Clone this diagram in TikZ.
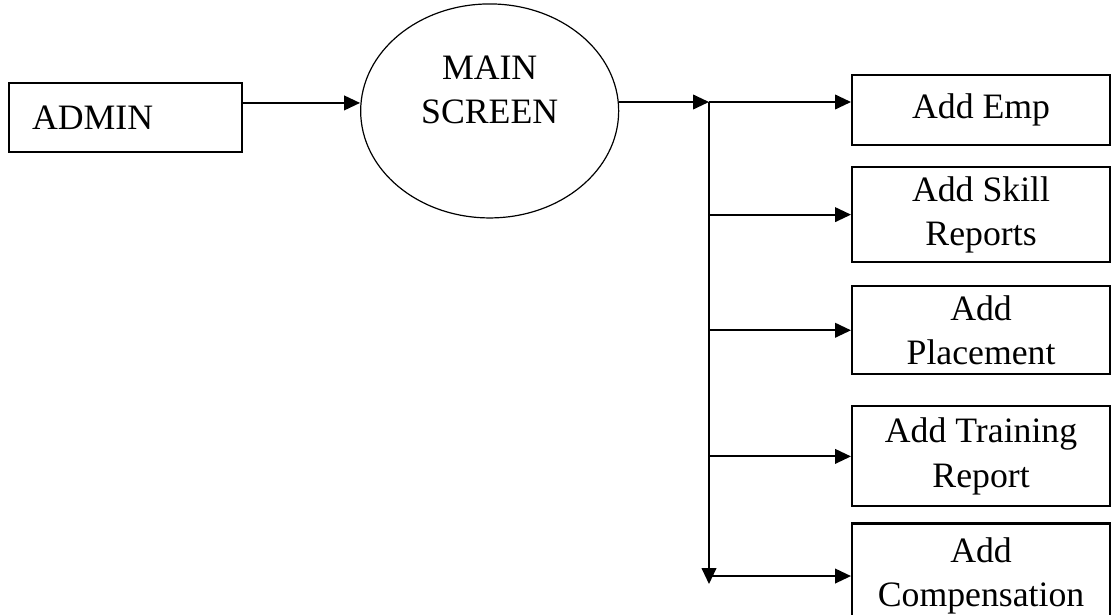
\documentclass[tikz,border=0pt]{standalone}
\usepackage{fontspec}
\setmainfont{Liberation Serif}
\usetikzlibrary{arrows.meta, positioning, shapes.geometric}

\begin{document}
\begin{tikzpicture}[
    font=\fontsize{26.8}{33}\selectfont,
    box/.style={draw, line width=1.6pt, align=center, minimum width=193.5pt},
    oval/.style={draw, ellipse, line width=0.9pt, minimum width=193.5pt, minimum height=160.5pt, inner sep=0pt},
    arrow/.style={-{Triangle[length=12pt, width=11pt]}, line width=1.4pt}
  ]
  \useasboundingbox (0,0) rectangle (834.75pt,-460.5pt);

  \node[box, align=left, minimum width=174.75pt, minimum height=51.75pt, text width=140pt, inner xsep=17.4pt] (admin) at (94.1pt,-88.1pt) {ADMIN};
  \node[oval, right=87.75pt of admin, yshift=4.9pt, label={[align=center, yshift=15.75pt]center:MAIN\\SCREEN}] (main) {};

  \coordinate (split) at (531.75pt,-76.5pt);

  \node[box, minimum height=52.5pt, right=106.5pt of split, yshift=-6pt] (emp) {Add Emp};
  \node[box, minimum height=71.25pt, below=15pt of emp] (skill) {Add Skill\\Reports};
  \node[box, minimum height=66pt, below=16.5pt of skill] (place) {Add\\Placement};
  \node[box, minimum height=75pt, below=22.5pt of place] (train) {Add Training\\Report};
  \node[box, minimum height=78.75pt, below=11.25pt of train] (comp) {Add\\Compensation};

  \draw[arrow] ([yshift=10.9pt]admin.east) -- ([yshift=10.9pt]admin.east -| main.west);
  \draw[arrow] (main.east |- split) -- (split);
  \draw[arrow] (split) -- (split -| emp.west);
  \foreach \n in {skill, place, train}
    \draw[arrow] (split |- \n.west) -- (\n.west);
  \draw[arrow] (split) -- ([yshift=-6pt]split |- comp.west);
  \draw[arrow] (split |- comp.west) -- (comp.west);
\end{tikzpicture}
\end{document}
